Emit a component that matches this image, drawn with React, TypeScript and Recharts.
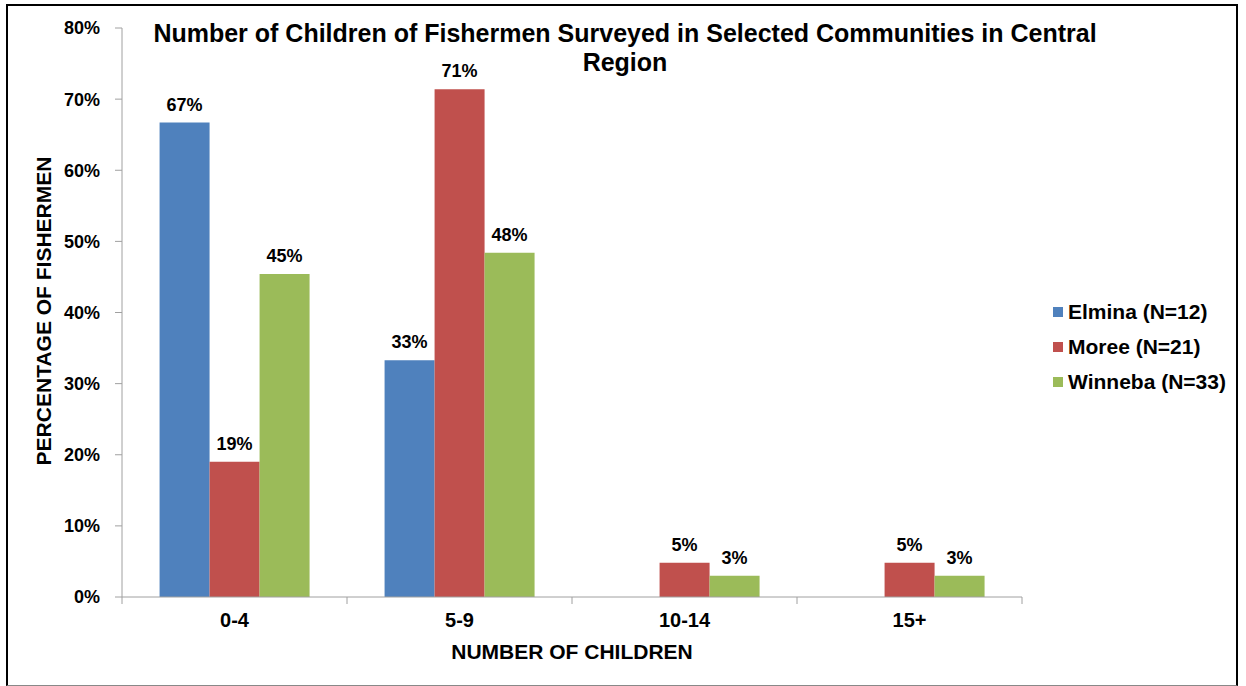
import { BarChart, Bar, XAxis, YAxis, LabelList } from 'recharts';

const categories = ['0-4', '5-9', '10-14', '15+'];
const elmina = [66.7, 33.3, 0, 0];
const moree = [19.0, 71.4, 4.8, 4.8];
const winneba = [45.4, 48.4, 3.0, 3.0];
const yTicks = [0, 10, 20, 30, 40, 50, 60, 70, 80];

const seriesInfo = [
  { key: 'elmina', name: 'Elmina (N=12)', color: '#4F81BD' },
  { key: 'moree', name: 'Moree (N=21)', color: '#C0504D' },
  { key: 'winneba', name: 'Winneba (N=33)', color: '#9BBB59' },
];

const data = categories.map((c, i) => ({
  cat: c,
  elmina: elmina[i],
  moree: moree[i],
  winneba: winneba[i],
}));

const FONT = '"Liberation Sans", Arial, sans-serif';
const AXIS = '#a0a0a0';

const fmt = (v: any) => (Number(v) > 0 ? `${Math.round(Number(v))}%` : '');

// category label plus the tick marks on the band edges
function CatTick(props: any) {
  const { x, y, payload, index } = props;
  const half = payload.offset || 0;
  const axisY = y - 16;
  return (
    <g>
      <text x={x} y={y} dy="0.71em" textAnchor="middle" fontFamily={FONT} fontWeight="bold" fontSize={20} fill="#000">
        {payload.value}
      </text>
      {index === 0 && <line x1={x - half} x2={x - half} y1={axisY} y2={axisY + 7} stroke={AXIS} />}
      <line x1={x + half} x2={x + half} y1={axisY} y2={axisY + 7} stroke={AXIS} />
    </g>
  );
}

export default function App() {
  return (
    <div style={{ position: 'absolute', left: 0, top: 0, width: 1246, height: 686, background: '#fff', fontFamily: FONT }}>
      <div style={{ position: 'absolute', left: 6, top: 4, width: 1228, height: 679, borderLeft: '2px solid #000', borderTop: '2px solid #000', borderRight: '2px solid #000', borderBottom: '1px solid #888' }} />
      <div style={{ position: 'absolute', left: 75, top: 19, width: 1100, textAlign: 'center', fontWeight: 'bold', fontSize: 25, lineHeight: '29px', color: '#000' }}>
        Number of Children of Fishermen Surveyed in Selected Communities in Central
        <br />
        Region
      </div>
      <BarChart
        width={1246}
        height={686}
        data={data}
        margin={{ top: 28, right: 224, bottom: 0, left: 0 }}
        barCategoryGap="16.7%"
        barGap={0}
      >
        <XAxis
          dataKey="cat"
          height={89}
          stroke={AXIS}
          tickLine={false}
          tickSize={0}
          tickMargin={16}
          tick={<CatTick />}
          label={{ value: 'NUMBER OF CHILDREN', position: 'insideBottom', offset: 27, fill: '#000', fontSize: 21, fontWeight: 'bold', fontFamily: FONT }}
        />
        <YAxis
          width={122}
          domain={[0, 80]}
          ticks={yTicks}
          stroke={AXIS}
          tickSize={7}
          tickMargin={15}
          tickFormatter={(v) => `${v}%`}
          tick={{ fill: '#000', fontSize: 18, fontWeight: 'bold', fontFamily: FONT }}
          label={{
            content: () => (
              <text x={45} y={311} transform="rotate(-90 45 311)" textAnchor="middle" dominantBaseline="middle" fontFamily={FONT} fontWeight="bold" fontSize={21} fill="#000">
                PERCENTAGE OF FISHERMEN
              </text>
            ),
          }}
        />
        {seriesInfo.map((s) => (
          <Bar key={s.key} dataKey={s.key} name={s.name} fill={s.color} isAnimationActive={false}>
            <LabelList dataKey={s.key} position="top" offset={12} formatter={fmt} fill="#000" fontSize={18} fontWeight="bold" fontFamily={FONT} />
          </Bar>
        ))}
      </BarChart>
      <div style={{ position: 'absolute', left: 1053, top: 294 }}>
        {seriesInfo.map((s) => (
          <div key={s.key} style={{ display: 'flex', alignItems: 'center', height: 35 }}>
            <span style={{ width: 10, height: 10, background: s.color, marginRight: 5, display: 'inline-block' }} />
            <span style={{ fontSize: 21, fontWeight: 'bold', color: '#000' }}>{s.name}</span>
          </div>
        ))}
      </div>
    </div>
  );
}
